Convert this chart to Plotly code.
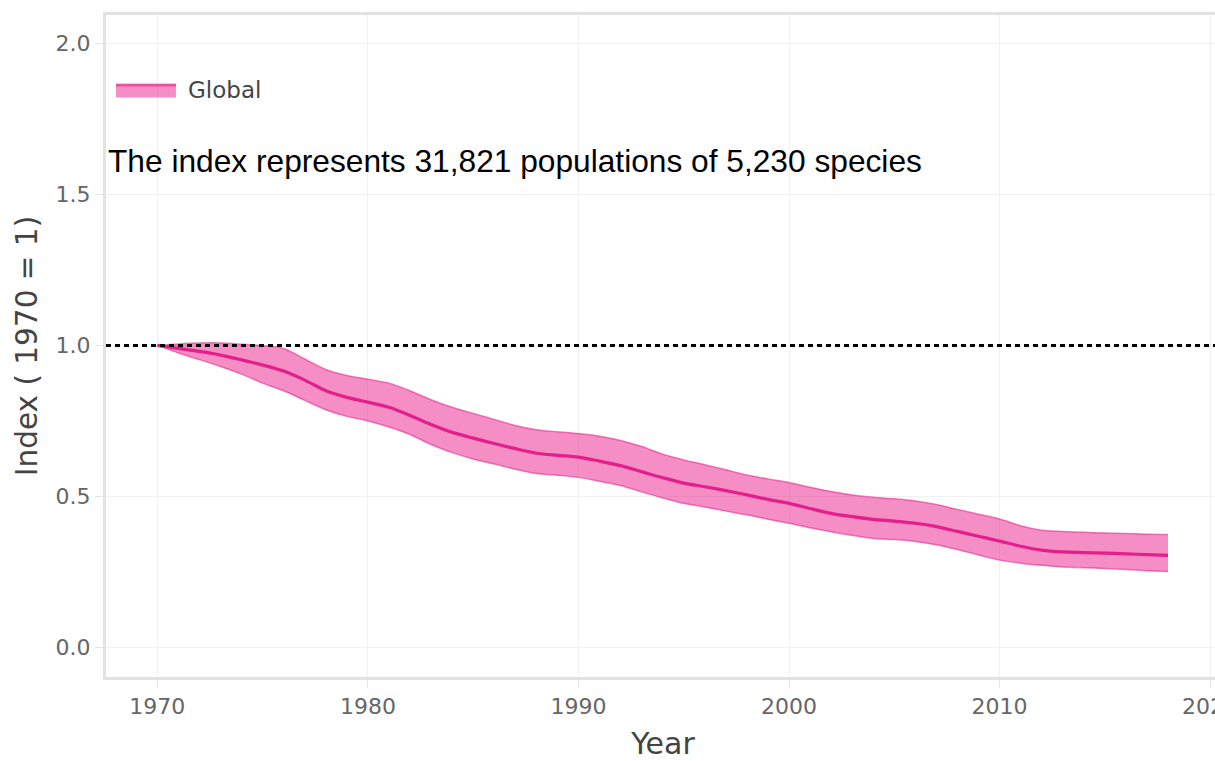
import plotly.graph_objects as go

years = list(range(1970, 2019))
index_mean = [1.000, 0.990, 0.980, 0.968, 0.952, 0.935, 0.915, 0.885, 0.850, 0.828,
              0.812, 0.795, 0.768, 0.738, 0.712, 0.693, 0.675, 0.658, 0.643, 0.636,
              0.630, 0.617, 0.602, 0.582, 0.562, 0.544, 0.532, 0.519, 0.505, 0.490,
              0.477, 0.460, 0.444, 0.433, 0.424, 0.418, 0.411, 0.400, 0.384, 0.368,
              0.352, 0.335, 0.322, 0.316, 0.314, 0.312, 0.310, 0.307, 0.305]
index_upper = [1.000, 1.005, 1.008, 1.008, 1.004, 0.999, 0.990, 0.955, 0.920, 0.900,
               0.888, 0.875, 0.850, 0.820, 0.795, 0.775, 0.755, 0.735, 0.721, 0.714,
               0.708, 0.699, 0.685, 0.665, 0.640, 0.621, 0.605, 0.588, 0.571, 0.558,
               0.546, 0.530, 0.516, 0.505, 0.497, 0.492, 0.485, 0.473, 0.457, 0.441,
               0.425, 0.403, 0.388, 0.384, 0.381, 0.379, 0.377, 0.375, 0.374]
index_lower = [1.000, 0.975, 0.953, 0.930, 0.905, 0.875, 0.850, 0.818, 0.787, 0.765,
               0.750, 0.730, 0.705, 0.672, 0.645, 0.624, 0.607, 0.590, 0.576, 0.570,
               0.563, 0.550, 0.536, 0.515, 0.495, 0.477, 0.465, 0.452, 0.439, 0.424,
               0.411, 0.396, 0.383, 0.371, 0.361, 0.357, 0.351, 0.340, 0.324, 0.306,
               0.289, 0.279, 0.272, 0.266, 0.264, 0.261, 0.258, 0.254, 0.251]

series_name = "Global"
note_text = "The index represents 31,821 populations of 5,230 species"
x_ticks = [1970, 1980, 1990, 2000, 2010, 2020]
y_ticks = [0.0, 0.5, 1.0, 1.5, 2.0]

PINK = "rgb(228,30,138)"
EDGE = "rgba(228,30,138,0.55)"
FILL = "rgba(233,30,140,0.5)"

fig = go.Figure()
fig.add_trace(go.Scatter(x=years, y=index_upper, mode="lines",
                         line=dict(color=EDGE, width=1.5, shape="spline", smoothing=0.8),
                         showlegend=False, legendgroup="g", hoverinfo="skip"))
fig.add_trace(go.Scatter(x=years, y=index_lower, mode="lines", fill="tonexty",
                         fillcolor=FILL, name=series_name,
                         line=dict(color=EDGE, width=1.5, shape="spline", smoothing=0.8),
                         showlegend=False, legendgroup="g"))
fig.add_trace(go.Scatter(x=years, y=index_mean, mode="lines", name=series_name,
                         line=dict(color=PINK, width=3.2, shape="spline", smoothing=0.8),
                         showlegend=False, legendgroup="g"))

# reference line at index = 1
fig.add_shape(type="line", xref="paper", x0=0, x1=1, yref="y", y0=1, y1=1,
              line=dict(color="black", width=3, dash="5px,4px"), layer="above")

# legend (swatch + label, matching the wide, tall swatch of the original)
fig.add_shape(type="rect", xref="paper", x0=0.009, x1=0.0628, yref="y", y0=1.821, y1=1.867,
              fillcolor=FILL, line=dict(width=0), layer="above")
fig.add_shape(type="line", xref="paper", x0=0.009, x1=0.0628, yref="y", y0=1.861, y1=1.861,
              line=dict(color=EDGE, width=2.5), layer="above")
fig.add_annotation(text=series_name, xref="paper", x=0.0718, xanchor="left",
                   yref="y", y=1.846, yanchor="middle", showarrow=False,
                   font=dict(family="DejaVu Sans", size=23, color="#444444"))

fig.add_annotation(text=note_text, xref="paper", x=0, xanchor="left",
                   yref="y", y=1.612, yanchor="middle", showarrow=False,
                   font=dict(family="Liberation Sans, Arial", size=31.7, color="black"))

axis_common = dict(
    showgrid=True, gridcolor="#f1f1f1", gridwidth=1,
    showline=True, linecolor="#e2e2e2", linewidth=3,
    ticks="outside", ticklen=8, tickcolor="#e6e6e6", tickwidth=1,
    tickfont=dict(family="DejaVu Sans", size=22, color="#666666"),
    zeroline=False, automargin=False, ticklabeloverflow="allow",
)

fig.update_layout(
    width=1235, height=761,
    margin=dict(l=106, r=15, t=15, b=84),
    paper_bgcolor="white", plot_bgcolor="white",
    showlegend=False,
    xaxis=dict(range=[1967.56, 2020.47], tickvals=x_ticks, mirror=True,
               title=dict(text="Year", standoff=17,
                          font=dict(family="DejaVu Sans", size=30, color="#444444")),
               **axis_common),
    yaxis=dict(range=[-0.098, 2.094], tickvals=y_ticks, tickformat=".1f", mirror=False,
               title=dict(text="Index ( 1970 = 1)", standoff=10,
                          font=dict(family="DejaVu Sans", size=29.5, color="#444444")),
               **axis_common),
)

fig.write_html(
    "out.html",
    config={"displayModeBar": False},
    post_script="document.body.style.margin='0';document.body.style.overflow='hidden';"
                "document.documentElement.style.overflow='hidden';",
)
